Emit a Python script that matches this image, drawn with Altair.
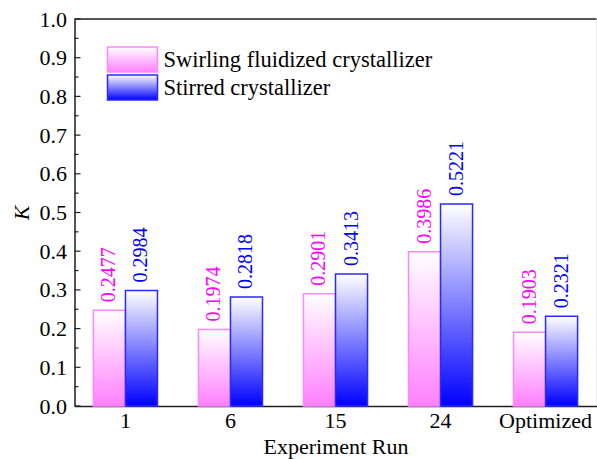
import altair as alt
import pandas as pd

categories = ["1", "6", "15", "24", "Optimized"]
series_names = ["Swirling fluidized crystallizer", "Stirred crystallizer"]
swirling = [0.2477, 0.1974, 0.2901, 0.3986, 0.1903]
stirred = [0.2984, 0.2818, 0.3413, 0.5221, 0.2321]
y_major = [0.0, 0.1, 0.2, 0.3, 0.4, 0.5, 0.6, 0.7, 0.8, 0.9, 1.0]
y_minor = [0.05, 0.15, 0.25, 0.35, 0.45, 0.55, 0.65, 0.75, 0.85, 0.95]

FONT = "Liberation Serif"
PINK_FILL = "#ff80ff"
PINK_STROKE = "#ff88ff"
PINK_TEXT = "#ff00ff"
BLUE_FILL = "#0000ff"
BLUE_STROKE = "#2a2aff"
BLUE_TEXT = "#0000ff"
AXIS_COLOR = "#222222"
W, H = 522, 387

rows = []
for c, a, b in zip(categories, swirling, stirred):
    rows.append({"run": c, "series": series_names[0], "value": a})
    rows.append({"run": c, "series": series_names[1], "value": b})
df = pd.DataFrame(rows)

yscale = alt.Scale(domain=[0, 1], nice=False, zero=True)
xscale = alt.Scale(domain=categories, paddingInner=0.39, paddingOuter=0.18)
xoff = alt.XOffset("series:N", scale=alt.Scale(domain=series_names))


def grad(color):
    return alt.Gradient(
        gradient="linear",
        stops=[alt.GradientStop(color="#ffffff", offset=0),
               alt.GradientStop(color=color, offset=1)],
        x1=0, x2=0, y1=0, y2=1,
    )


x_enc = alt.X("run:N", scale=xscale, sort=categories,
              axis=alt.Axis(title="Experiment Run", labelAngle=0, ticks=False,
                            domainColor=AXIS_COLOR, domainWidth=1.5,
                            labelFont=FONT, labelFontSize=22, labelColor="black",
                            labelPadding=4, titleFont=FONT, titleFontSize=22,
                            titleFontWeight="normal", titleColor="black",
                            titlePadding=5))
y_enc = alt.Y("value:Q", scale=yscale,
              axis=alt.Axis(title="K", values=y_major, format=".1f", ticks=False,
                            domainColor=AXIS_COLOR, domainWidth=1.5,
                            labelFont=FONT, labelFontSize=22, labelColor="black",
                            labelPadding=8, titleFont=FONT, titleFontSize=22,
                            titleFontStyle="italic", titleFontWeight="normal",
                            titleColor="black", titlePadding=6, grid=False))

base = alt.Chart(df)

bars_pink = base.transform_filter(alt.datum.series == series_names[0]).mark_bar(
    fill=grad(PINK_FILL), stroke=PINK_STROKE, strokeWidth=1.5
).encode(x=x_enc, xOffset=xoff, y=y_enc)

bars_blue = base.transform_filter(alt.datum.series == series_names[1]).mark_bar(
    fill=grad(BLUE_FILL), stroke=BLUE_STROKE, strokeWidth=1.5
).encode(x=x_enc, xOffset=xoff, y=y_enc)

def labels(name, color):
    return base.transform_filter(alt.datum.series == name).mark_text(
        angle=270, align="left", baseline="middle", dx=8, font=FONT,
        fontSize=20, color=color
    ).encode(x=x_enc, xOffset=xoff, y=y_enc,
             text=alt.Text("value:Q", format=".4f"))

lab_pink = labels(series_names[0], PINK_TEXT)
lab_blue = labels(series_names[1], BLUE_TEXT)

major = alt.Chart(pd.DataFrame({"value": y_major})).mark_rule(
    color=AXIS_COLOR, strokeWidth=1.2
).encode(y=y_enc, x=alt.value(0), x2=alt.value(6))

minor = alt.Chart(pd.DataFrame({"value": y_minor})).mark_rule(
    color=AXIS_COLOR, strokeWidth=1.2
).encode(y=y_enc, x=alt.value(0), x2=alt.value(4))

top = alt.Chart(pd.DataFrame({"value": [1.0]})).mark_rule(
    color=AXIS_COLOR, strokeWidth=1.5
).encode(y=y_enc, x=alt.value(0), x2=alt.value(W))

legend_df = pd.DataFrame({"series": series_names})
sw_pink = alt.Chart(legend_df).transform_filter(alt.datum.series == series_names[0]).mark_rect(
    fill=grad(PINK_FILL), stroke=PINK_STROKE, strokeWidth=1.5
).encode(x=alt.value(33), x2=alt.value(83), y=alt.value(28), y2=alt.value(53))
sw_blue = alt.Chart(legend_df).transform_filter(alt.datum.series == series_names[1]).mark_rect(
    fill=grad(BLUE_FILL), stroke=BLUE_STROKE, strokeWidth=1.5
).encode(x=alt.value(33), x2=alt.value(83), y=alt.value(56), y2=alt.value(81))
lt_pink = alt.Chart(legend_df).transform_filter(alt.datum.series == series_names[0]).mark_text(
    align="left", baseline="middle", font=FONT, fontSize=22.5, color="black"
).encode(x=alt.value(89), y=alt.value(41), text="series:N")
lt_blue = alt.Chart(legend_df).transform_filter(alt.datum.series == series_names[1]).mark_text(
    align="left", baseline="middle", font=FONT, fontSize=22.5, color="black"
).encode(x=alt.value(89), y=alt.value(69), text="series:N")

chart = alt.layer(
    bars_pink, bars_blue, lab_pink, lab_blue, major, minor, top,
    sw_pink, sw_blue, lt_pink, lt_blue
).properties(
    width=W, height=H,
    autosize=alt.AutoSizeParams(type="none"),
    padding={"left": 74.5, "top": 19, "right": 0.5, "bottom": 53},
).configure_view(stroke=None).configure(background="white")

chart.save("out.html", embed_options={"renderer": "svg", "actions": False})
